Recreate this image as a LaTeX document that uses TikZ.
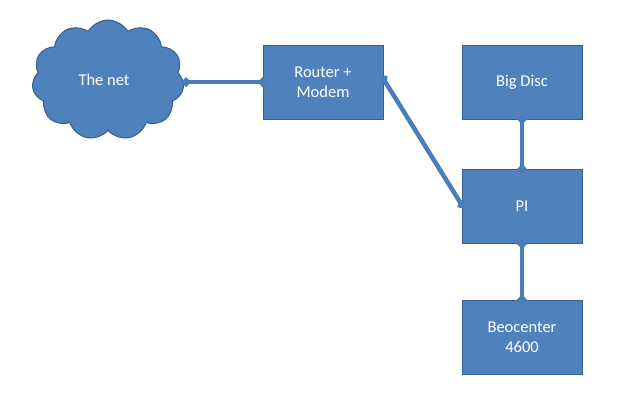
\documentclass[tikz,border=0pt]{standalone}
\usepackage{fontspec}
\setmainfont{Carlito}
\usetikzlibrary{shapes.symbols,arrows.meta}
\definecolor{boxfill}{HTML}{4F81BD}
\definecolor{boxedge}{HTML}{385D8A}
\definecolor{linkcol}{HTML}{4A7EBB}
\begin{document}
\begin{tikzpicture}[x=1pt,y=-1pt,
  box/.style={draw=boxedge,line width=1pt,fill=boxfill,text=white,
    minimum width=120pt,minimum height=74pt,inner sep=0pt,align=center,
    font=\fontsize{16.5}{20}\selectfont},
  netcloud/.style={cloud,cloud puffs=11,cloud puff arc=120,aspect=1.3,
    draw=boxedge,line width=1pt,fill=boxfill,text=white,
    minimum width=152pt,minimum height=120pt,inner sep=0pt,
    font=\fontsize{16.5}{20}\selectfont},
  link/.style={draw=linkcol,line width=4.5pt,
    {Diamond[length=10pt,width=10pt]}-{Diamond[length=10pt,width=10pt]},
    shorten <=-5pt, shorten >=-5pt}]
\useasboundingbox (0,0) rectangle (640,400);
\fill[white] (0,0) rectangle (640,400);
\node[netcloud] (net) at (108,80) {\hspace*{-8pt}The net};
\node[box] (router) at (323,82) {Router +\\Modem};
\node[box] (disc) at (522,82) {Big Disc};
\node[box] (pi) at (522,206.5) {PI};
\node[box] (beo) at (522,337) {Beocenter\\4600};
\coordinate (netE) at (186,82);
\draw[link] (netE) -- (router.west);
\draw[link] ([yshift=3pt]router.east) -- ([yshift=2pt]pi.west);
\draw[link] (disc.south) -- (pi.north);
\draw[link] (pi.south) -- (beo.north);
\end{tikzpicture}
\end{document}
